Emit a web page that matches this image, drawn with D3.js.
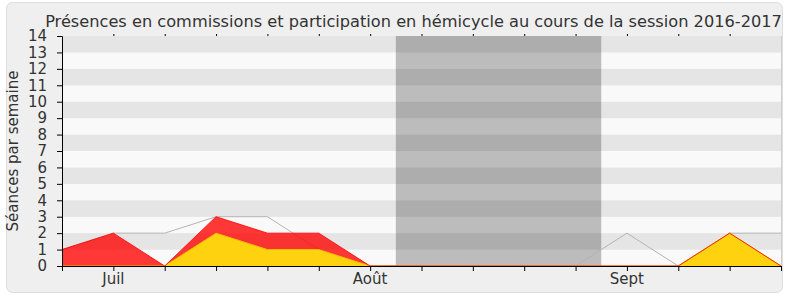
<!DOCTYPE html>
<html>
<head>
<meta charset="utf-8">
<script src="https://cdn.jsdelivr.net/npm/d3@7"></script>
<style>
  body { margin: 0; background: #fff; }
  text { font-family: "DejaVu Sans", sans-serif; fill: #333; }
</style>
</head>
<body>
<svg id="chart" width="790" height="300"></svg>
<script>
// one point per week, july -> september 2016
let commissions = [1, 2, 0, 3, 2, 2, 0, 0, 0, 0, 0, 0, 0, 2, 0];   // red
let hemicycle   = [0, 0, 0, 2, 1, 1, 0, 0, 0, 0, 0, 0, 0, 2, 0];   // yellow
let totalLine   = [1, 2, 2, 3, 3, 1, 0, 0, 0, 0, 0, 2, 0, 2, 2];   // grey
let monthTicks  = [1, 6, 11];
let monthNames  = ["Juil", "Août", "Sept"];
let vacation    = [6.5, 10.5];  // week index where the session is off
let yMax = 14;

let svg = d3.select("#chart")
let pLeft = 62, pRight = 781, pTop = 36, pBottom = 266

svg.append("rect")
   .attr("x", 6.5).attr("y", 2.5)
   .attr("width", 776).attr("height", 290)
   .attr("rx", 6).attr("ry", 6)
   .attr("fill", "#efefef")
   .attr("stroke", "#dedede")

let x = d3.scaleLinear().domain([0, commissions.length - 1]).range([pLeft, pRight])
let y = d3.scaleLinear().domain([0, yMax]).range([pBottom, pTop])

// stripes
let bands = d3.range(0, yMax)
svg.append("g").selectAll("rect")
   .data(bands)
   .enter()
   .append("rect")
   .attr("x", pLeft)
   .attr("width", pRight - pLeft)
   .attr("y", d => y(d + 1))
   .attr("height", d => y(d) - y(d + 1))
   .attr("fill", d => d % 2 == 1 ? "#e5e5e5" : "#f9f9f9")

// vacation shade
svg.append("rect")
   .attr("x", x(vacation[0]))
   .attr("width", x(vacation[1]) - x(vacation[0]))
   .attr("y", pTop)
   .attr("height", pBottom - pTop)
   .attr("fill", "rgba(0,0,0,0.245)")

let idx = d3.range(commissions.length)

// grey line
svg.append("path")
   .datum(idx)
   .attr("fill", "none")
   .attr("stroke", "#b4b4b4")
   .attr("stroke-width", 1)
   .attr("d", d3.line().x(i => x(i)).y(i => y(totalLine[i])))

let area = vals => d3.area().x(i => x(i)).y0(y(0)).y1(i => y(vals[i]))
let line = vals => d3.line().x(i => x(i)).y(i => y(vals[i]))

svg.append("path")
   .datum(idx)
   .attr("fill", "rgba(255,0,0,0.78)")
   .attr("d", area(commissions))

svg.append("path")
   .datum(idx)
   .attr("fill", "#ffd20f")
   .attr("d", area(hemicycle))

svg.append("path")
   .datum(idx)
   .attr("fill", "none")
   .attr("stroke", "#f0c000")
   .attr("stroke-width", 1)
   .attr("d", line(hemicycle))

svg.append("path")
   .datum(idx)
   .attr("fill", "none")
   .attr("stroke", "rgba(255,0,0,0.8)")
   .attr("stroke-width", 1)
   .attr("d", line(commissions))

// right edge
svg.append("line")
   .attr("x1", pRight + 0.5).attr("x2", pRight + 0.5)
   .attr("y1", pTop).attr("y2", pBottom)
   .attr("stroke", "#cfcfcf")

// axes
let xAxis = svg.append("g")
   .attr("transform", "translate(0," + pBottom + ")")
   .call(d3.axisBottom(x).tickValues(idx).tickSize(5).tickFormat(""))
xAxis.select(".domain").attr("stroke", "#000")

svg.append("g")
   .attr("transform", "translate(0," + pTop + ")")
   .call(d3.axisTop(x).tickValues(idx.slice(1, -1)).tickSize(2).tickFormat(""))
   .select(".domain").remove()

svg.append("g").selectAll("text")
   .data(monthTicks)
   .enter()
   .append("text")
   .attr("x", d => x(d))
   .attr("y", 284)
   .attr("text-anchor", "middle")
   .style("font-size", "15px")
   .text((d, i) => monthNames[i])

let yAxis = svg.append("g")
   .attr("transform", "translate(" + pLeft + ",0)")
   .call(d3.axisLeft(y).ticks(yMax).tickSize(5).tickPadding(10))
yAxis.select(".domain").attr("stroke", "#000")
yAxis.selectAll("text")
   .style("font-size", "15px")
   .style("font-family", "DejaVu Sans, sans-serif")
   .attr("fill", "#333")

svg.append("text")
   .attr("transform", "translate(18," + ((pTop + pBottom) / 2) + ") rotate(-90)")
   .attr("text-anchor", "middle")
   .style("font-size", "15px")
   .text("Séances par semaine")

let title = svg.append("text")
   .attr("x", (45 + 782) / 2)
   .attr("y", 27)
   .attr("text-anchor", "middle")
   .style("font-size", "17px")
   .text("Présences en commissions et participation en hémicycle au cours de la session 2016-2017")
// squeeze font size so the title spans the same width as the original
let tw = title.node().getComputedTextLength()
if (tw > 737) title.style("font-size", (17 * 737 / tw) + "px")
</script>
</body>
</html>
